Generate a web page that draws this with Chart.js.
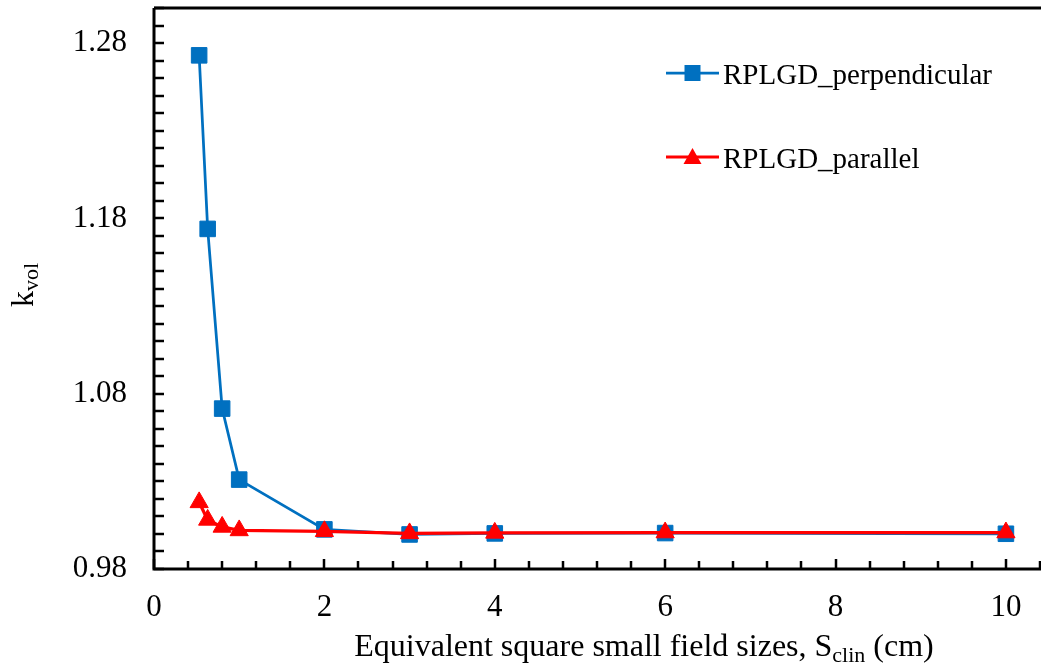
<!DOCTYPE html>
<html>
<head>
<meta charset="utf-8">
<title>kvol vs field size</title>
<script src="https://cdn.jsdelivr.net/npm/chart.js@4/dist/chart.umd.min.js"></script>
<style>
  html, body { margin: 0; padding: 0; background: #fff; }
  #wrap { width: 1041px; height: 669px; }
</style>
</head>
<body>
<div id="wrap"><canvas id="kvolChart" width="1041" height="669"></canvas></div>
<script>
// ---- data ----
const fieldSizes = [0.53, 0.63, 0.8, 1, 2, 3, 4, 6, 10];               // S_clin (cm)
const kvolPerpendicular = [1.273, 1.174, 1.0715, 1.031, 1.0026, 0.9997, 1.0003, 1.0005, 1.0001];
const kvolParallel = [1.018, 1.008, 1.004, 1.002, 1.0015, 1.0003, 1.0006, 1.0008, 1.0008];
const xTickLabels = [0, 2, 4, 6, 8, 10];
const yTickLabels = [0.98, 1.08, 1.18, 1.28];
const seriesNames = ['RPLGD_perpendicular', 'RPLGD_parallel'];

const SERIF = "'Liberation Serif', 'Times New Roman', serif";
const BLUE = '#0070C0';
const RED = '#FF0000';

function toPoints(xs, ys) {
    return xs.map((x, i) => ({ x: x, y: ys[i] }));
}

// axis lines, top border and inward tick marks (minor ones every 0.4 / 0.01)
const framePlugin = {
    id: 'frame',
    afterDraw(chart) {
        const { ctx, chartArea: a, scales } = chart;
        const xs = scales.x, ys = scales.y;
        ctx.save();
        ctx.strokeStyle = '#000';
        ctx.lineWidth = 2.5;
        ctx.beginPath();
        for (let i = 0; i <= 26; i++) {
            const px = Math.round(xs.getPixelForValue(i * 0.4));
            const len = (i % 5 === 0) ? 10 : 8;
            ctx.moveTo(px, a.bottom);
            ctx.lineTo(px, a.bottom - len);
        }
        for (let j = 0; j <= 32; j++) {
            const py = Math.round(ys.getPixelForValue(0.98 + j * 0.01));
            ctx.moveTo(a.left, py);
            ctx.lineTo(a.left + 10, py);
        }
        ctx.stroke();

        ctx.lineWidth = 3;
        ctx.beginPath();
        ctx.moveTo(a.left, a.top);
        ctx.lineTo(a.left, a.bottom);
        ctx.lineTo(chart.width, a.bottom);
        ctx.moveTo(a.left, a.top);
        ctx.lineTo(chart.width, a.top);
        ctx.stroke();
        ctx.restore();
    }
};

// axis titles with subscripts
const titlePlugin = {
    id: 'titles',
    afterDraw(chart) {
        const ctx = chart.ctx;
        const big = '32px ' + SERIF, small = '22px ' + SERIF;
        ctx.save();
        ctx.fillStyle = '#000';
        ctx.textBaseline = 'alphabetic';

        // x title
        const p1 = 'Equivalent square small field sizes, S', sub = 'clin', p2 = ' (cm)';
        ctx.font = big;
        const w1 = ctx.measureText(p1).width, w3 = ctx.measureText(p2).width;
        ctx.font = small;
        const w2 = ctx.measureText(sub).width;
        let x = 644 - (w1 + w2 + w3) / 2;
        const yb = 656;
        ctx.font = big; ctx.fillText(p1, x, yb); x += w1;
        ctx.font = small; ctx.fillText(sub, x, yb + 6); x += w2;
        ctx.font = big; ctx.fillText(p2, x, yb);

        // y title, rotated
        ctx.translate(33, 285);
        ctx.rotate(-Math.PI / 2);
        ctx.font = big;
        const k = 'k', kw = ctx.measureText(k).width;
        ctx.font = small;
        const vw = ctx.measureText('vol').width;
        let t = -(kw + vw) / 2;
        ctx.font = big; ctx.fillText(k, t, 0); t += kw;
        ctx.font = small; ctx.fillText('vol', t, 5);
        ctx.restore();
    }
};

// legend inside the plot, line + marker + name
const legendPlugin = {
    id: 'sideLegend',
    afterDraw(chart) {
        const ctx = chart.ctx;
        const rows = [
            { y: 73, color: BLUE, lw: 2.75, shape: 'rect' },
            { y: 157, color: RED, lw: 3, shape: 'triangle' }
        ];
        ctx.save();
        rows.forEach((r, i) => {
            ctx.strokeStyle = r.color;
            ctx.fillStyle = r.color;
            ctx.lineWidth = r.lw;
            ctx.beginPath();
            ctx.moveTo(666, r.y);
            ctx.lineTo(719, r.y);
            ctx.stroke();
            const cx = 692.5;
            ctx.beginPath();
            if (r.shape === 'rect') {
                ctx.rect(cx - 8, r.y - 8, 16, 16);
            } else {
                ctx.moveTo(cx, r.y - 9);
                ctx.lineTo(cx + 9, r.y + 7);
                ctx.lineTo(cx - 9, r.y + 7);
                ctx.closePath();
            }
            ctx.fill();
            ctx.fillStyle = '#000';
            ctx.font = '29px ' + SERIF;
            ctx.textBaseline = 'alphabetic';
            ctx.fillText(seriesNames[i], 723, r.y + 11);
        });
        ctx.restore();
    }
};

const chart = new Chart(document.getElementById('kvolChart'), {
    type: 'line',
    data: {
        datasets: [
            {
                label: seriesNames[0],
                data: toPoints(fieldSizes, kvolPerpendicular),
                borderColor: BLUE,
                backgroundColor: BLUE,
                borderWidth: 2.75,
                pointStyle: 'rect',
                pointRadius: 11,
                pointBorderWidth: 1,
                pointBackgroundColor: BLUE,
                pointBorderColor: BLUE,
                order: 2
            },
            {
                label: seriesNames[1],
                data: toPoints(fieldSizes, kvolParallel),
                borderColor: RED,
                backgroundColor: RED,
                borderWidth: 3.25,
                pointStyle: 'triangle',
                pointRadius: 10.5,
                pointBorderWidth: 1,
                pointBackgroundColor: RED,
                pointBorderColor: RED,
                order: 1
            }
        ]
    },
    options: {
        responsive: false,
        devicePixelRatio: 1,
        animation: false,
        layout: { autoPadding: false, padding: { top: 8, right: 1, left: 0, bottom: 0 } },
        plugins: {
            legend: { display: false },
            tooltip: { enabled: false }
        },
        scales: {
            x: {
                type: 'linear',
                min: 0,
                max: 10.4,
                grid: { display: false, drawTicks: false },
                border: { display: false },
                afterBuildTicks: s => { s.ticks = xTickLabels.map(v => ({ value: v })); },
                afterFit: s => { s.height = 100; s.paddingLeft = 0; s.paddingRight = 0; },
                ticks: {
                    color: '#000',
                    padding: 20,
                    maxRotation: 0,
                    autoSkip: false,
                    font: { family: SERIF, size: 31 },
                    callback: v => String(v)
                }
            },
            y: {
                type: 'linear',
                min: 0.98,
                max: 1.30,
                grid: { display: false, drawTicks: false },
                border: { display: false },
                afterBuildTicks: s => { s.ticks = yTickLabels.map(v => ({ value: v })); },
                afterFit: s => { s.width = 154; s.paddingTop = 0; s.paddingBottom = 0; },
                ticks: {
                    color: '#000',
                    padding: 27,
                    autoSkip: false,
                    font: { family: SERIF, size: 31 },
                    callback: v => Number(v).toFixed(2)
                }
            }
        }
    },
    plugins: [framePlugin, titlePlugin, legendPlugin]
});
</script>
</body>
</html>
